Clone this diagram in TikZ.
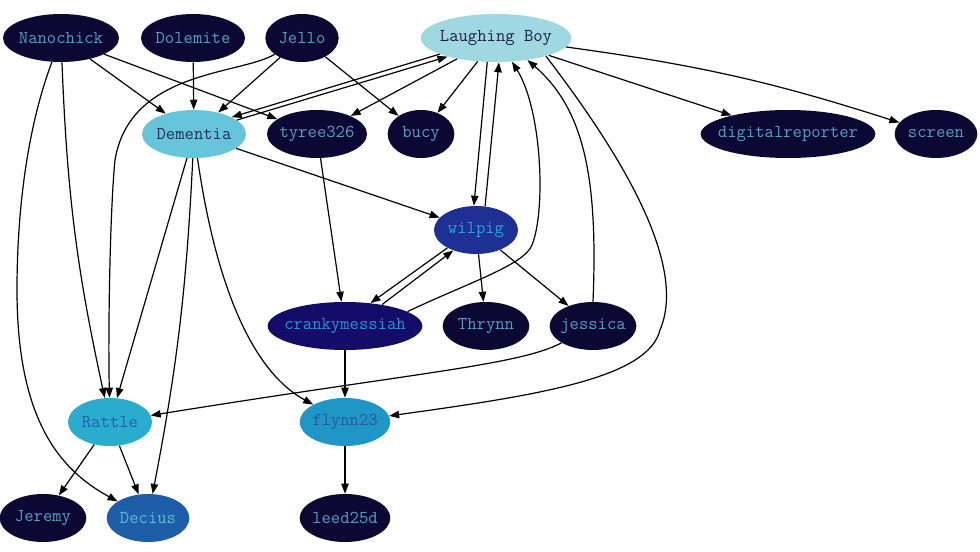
\documentclass[tikz,border=0pt]{standalone}
\usepackage{fontspec}
\usetikzlibrary{
    shapes.geometric,
    arrows.meta,
    positioning
}
\definecolor{nightnavy}{RGB}{12, 8, 52}
\definecolor{nighttext}{RGB}{85, 160, 195}
\definecolor{boyfill}{RGB}{160, 216, 226}
\definecolor{boytext}{RGB}{30, 30, 70}
\definecolor{dementiafill}{RGB}{103, 197, 219}
\definecolor{dementiatext}{RGB}{30, 45, 90}
\definecolor{wilpigfill}{RGB}{30, 48, 148}
\definecolor{wilpigtext}{RGB}{40, 165, 210}
\definecolor{crankyfill}{RGB}{20, 12, 105}
\definecolor{crankytext}{RGB}{40, 150, 205}
\definecolor{rattlefill}{RGB}{42, 172, 206}
\definecolor{rattletext}{RGB}{35, 95, 170}
\definecolor{flynnfill}{RGB}{31, 150, 198}
\definecolor{flynntext}{RGB}{35, 90, 165}
\definecolor{deciusfill}{RGB}{30, 94, 168}
\definecolor{deciustext}{RGB}{90, 190, 210}
\newcommand{\nick}[1]{\makebox[0pt]{#1}}

\begin{document}
\begin{tikzpicture}[
        x=0.75pt, y=-0.75pt,
        user/.style={ellipse, draw=none, fill=nightnavy, text=nighttext, minimum height=36pt, inner sep=0pt,
            font=\ttfamily\fontsize{13.6}{16}\selectfont},
        arrow/.style={-{Triangle[length=7.5pt, width=5.5pt]}, line width=0.9pt}
    ]
        \useasboundingbox (0, 0) rectangle (980, 552);

        % Top row
        \node[user, minimum width=87pt] (nano) at (61, 38) {\nick{Nanochick}};
        \node[user, minimum width=78pt] (dole) at (193, 38) {\nick{Dolemite}};
        \node[user, minimum width=55pt] (jello) at (302, 38) {\nick{Jello}};
        \node[user, minimum width=113pt, fill=boyfill, text=boytext] (boy) at (496, 38) {\nick{Laughing Boy}};

        % Second row
        \node[user, minimum width=78pt, fill=dementiafill, text=dementiatext] (dem) at (194, 134) {\nick{Dementia}};
        \node[user, minimum width=75pt] (tyree) at (317, 134) {\nick{tyree326}};
        \node[user, minimum width=50pt] (bucy) at (421, 134) {\nick{bucy}};
        \node[user, minimum width=131pt] (digi) at (788, 134) {\nick{digitalreporter}};
        \node[user, minimum width=62pt] (screen) at (936, 134) {\nick{screen}};

        % Middle
        \node[user, minimum width=63pt, fill=wilpigfill, text=wilpigtext] (wil) at (476, 230) {\nick{wilpig}};
        \node[user, minimum width=116pt, fill=crankyfill, text=crankytext] (cranky) at (345, 326) {\nick{crankymessiah}};
        \node[user, minimum width=65pt] (thrynn) at (486, 326) {\nick{Thrynn}};
        \node[user, minimum width=65pt] (jess) at (593, 326) {\nick{jessica}};

        % Bottom rows
        \node[user, minimum width=63pt, fill=rattlefill, text=rattletext] (rattle) at (110, 422) {\nick{Rattle}};
        \node[user, minimum width=68pt, fill=flynnfill, text=flynntext] (flynn) at (345, 422) {\nick{flynn23}};
        \node[user, minimum width=65pt] (jeremy) at (43, 518) {\nick{Jeremy}};
        \node[user, minimum width=62pt, fill=deciusfill, text=deciustext] (decius) at (148, 518) {\nick{Decius}};
        \node[user, minimum width=68pt] (leed) at (345, 518) {\nick{leed25d}};

        % Arrows from the top row
        \draw[arrow] (nano) -- (dem);
        \draw[arrow] (nano) -- (tyree);
        \draw[arrow] (nano) to[bend right=5] (rattle);
        \draw[arrow] (nano) .. controls (30, 120) and (17, 200) .. (17, 290)
            .. controls (17, 420) and (60, 470) .. (decius);
        \draw[arrow] (dole) -- (dem);
        \draw[arrow] (jello) -- (dem);
        \draw[arrow] (jello) -- (bucy);
        \draw[arrow] (jello) .. controls (240, 75) and (130, 70) .. (115, 160)
            .. controls (110, 210) and (108, 330) .. (rattle);

        % Laughing Boy
        \draw[arrow] (boy.196) -- (dem.24);
        \draw[arrow] (dem.18) -- (boy.201);
        \draw[arrow] (boy) -- (tyree);
        \draw[arrow] (boy) -- (bucy);
        \draw[arrow] (boy.250) -- (wil.95);
        \draw[arrow] (wil.69) -- (boy.277);
        \draw[arrow] (boy) -- (digi);
        \draw[arrow] (boy) to[bend left=5] (screen);
        \draw[arrow] (boy.340) .. controls (610, 140) and (690, 260) .. (660, 330)
            .. controls (648, 378) and (540, 395) .. (flynn);
        \draw[arrow] (cranky.13) .. controls (470, 282) and (524, 265) .. (532, 245)
            .. controls (546, 210) and (542, 110) .. (boy.304);
        \draw[arrow] (jess.north) .. controls (598, 180) and (585, 110) .. (boy.325);

        % Dementia
        \draw[arrow] (dem) -- (wil);
        \draw[arrow] (dem) -- (rattle);
        \draw[arrow] (dem) to[bend left=4] (decius);
        \draw[arrow] (dem) .. controls (215, 280) and (250, 370) .. (flynn);

        % Middle
        \draw[arrow] (tyree) -- (cranky);
        \draw[arrow] (wil.212) -- (cranky.42);
        \draw[arrow] (cranky.30) -- (wil.222);
        \draw[arrow] (wil) -- (thrynn);
        \draw[arrow] (wil) -- (jess);
        \draw[arrow] (jess) .. controls (520, 365) and (420, 372) .. (rattle);
        \draw[arrow] (cranky) -- (flynn);

        % Bottom
        \draw[arrow] (rattle) -- (jeremy);
        \draw[arrow] (rattle) -- (decius);
        \draw[arrow] (flynn) -- (leed);
    \end{tikzpicture}
\end{document}
